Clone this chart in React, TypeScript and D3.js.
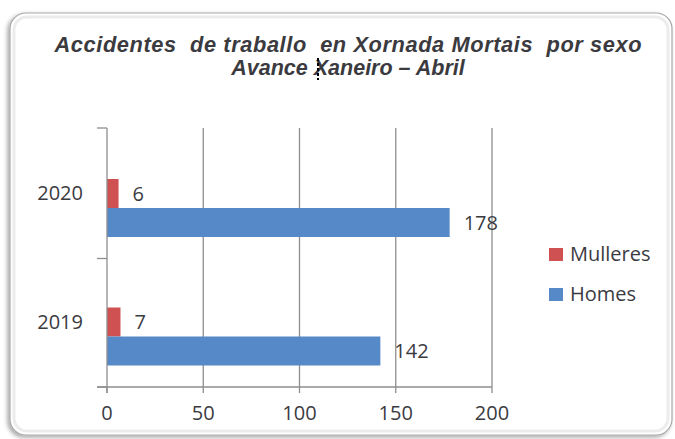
import React from "react";
import * as d3 from "d3";

// data
const years = ["2020", "2019"];
const seriesNames = ["Mulleres", "Homes"];
const mulleres = [6, 7];
const homes = [178, 142];
const xTicks = [0, 50, 100, 150, 200];

const colors: Record<string, string> = { Mulleres: "#cf5151", Homes: "#5589c8" };

const W = 675;
const H = 439;

const App = () => {
  const x = d3.scaleLinear().domain([0, 200]).range([107, 492]);
  const y = d3.scaleBand().domain(years).range([130, 387]);
  // bars sit low in each band, as in the original
  const inner = d3.scaleBand().domain(seriesNames).range([49, 107]);

  const rows = years.map((yr, i) => ({
    year: yr,
    values: [
      { name: "Mulleres", value: mulleres[i] },
      { name: "Homes", value: homes[i] },
    ],
  }));

  const txt = "#3b3b3f";
  const labelFont = "'Open Sans', sans-serif";
  const titleFont = "'Liberation Sans', Arial, sans-serif";

  return (
    <div style={{ position: "fixed", left: 0, top: 0 }}>
      <svg width={W} height={H} style={{ display: "block", background: "#fff" }}>
        <defs>
          <filter id="shadow" x="-5%" y="-5%" width="110%" height="110%">
            <feDropShadow dx={-2} dy={2} stdDeviation={2} floodColor="#000" floodOpacity={0.35} />
          </filter>
        </defs>

        {/* frame */}
        <rect x={10} y={13} width={662} height={422} rx={16} fill="#fff" stroke="#a8a8a8" strokeWidth={1.2} filter="url(#shadow)" />
        <rect x={14} y={17} width={654} height={414} rx={13} fill="none" stroke="#ececec" strokeWidth={3} />

        {/* title */}
        <text x={348} y={52} textAnchor="middle" fontFamily={titleFont} fontWeight="bold" fontStyle="italic" fontSize={21.8} fill={txt} style={{ whiteSpace: "pre" }} textLength={587} lengthAdjust="spacing">
          {"Accidentes  de traballo  en Xornada Mortais  por sexo"}
        </text>
        <text x={348} y={75} textAnchor="middle" fontFamily={titleFont} fontWeight="bold" fontStyle="italic" fontSize={21.5} fill={txt}>
          Avance Xaneiro – Abril
        </text>
        <line x1={318} x2={318} y1={58} y2={80} stroke="#000" strokeWidth={2} strokeDasharray="3,2" />

        {/* gridlines */}
        {xTicks.slice(1).map((t) => (
          <line key={"g" + t} x1={x(t)} x2={x(t)} y1={128} y2={387} stroke="#8e8e8e" strokeWidth={1.3} />
        ))}

        {/* bars */}
        {rows.map((r) =>
          r.values.map((v) => (
            <rect
              key={r.year + v.name}
              x={x(0)}
              y={(y(r.year) ?? 0) + (inner(v.name) ?? 0)}
              width={x(v.value) - x(0)}
              height={inner.bandwidth()}
              fill={colors[v.name]}
            />
          ))
        )}

        {/* value labels */}
        {rows.map((r) =>
          r.values.map((v) => (
            <text
              key={"l" + r.year + v.name}
              x={x(v.value) + 14}
              y={(y(r.year) ?? 0) + (inner(v.name) ?? 0) + inner.bandwidth() / 2 + 7}
              fontFamily={labelFont}
              fontSize={20}
              fill={txt}
            >
              {v.value}
            </text>
          ))
        )}

        {/* y axis */}
        <line x1={x(0)} x2={x(0)} y1={128} y2={393} stroke="#8e8e8e" strokeWidth={1.3} />
        {[128, ...years.slice(1).map((yr) => y(yr) ?? 0), 387].map((yy, i) => (
          <line key={"yt" + i} x1={97} x2={x(0)} y1={yy} y2={yy} stroke="#8e8e8e" strokeWidth={1.3} />
        ))}
        {years.map((yr) => (
          <text key={"yl" + yr} x={83} y={(y(yr) ?? 0) + y.bandwidth() / 2 + 6} textAnchor="end" fontFamily={labelFont} fontSize={20} fill={txt}>
            {yr}
          </text>
        ))}

        {/* x axis */}
        <line x1={97} x2={x(200)} y1={387} y2={387} stroke="#8e8e8e" strokeWidth={1.3} />
        {xTicks.map((t) => (
          <g key={"xt" + t}>
            <line x1={x(t)} x2={x(t)} y1={387} y2={393} stroke="#8e8e8e" strokeWidth={1.3} />
            <text x={x(t)} y={420} textAnchor="middle" fontFamily={labelFont} fontSize={20} fill={txt}>
              {t}
            </text>
          </g>
        ))}

        {/* legend */}
        {seriesNames.map((s, i) => (
          <g key={"lg" + s} transform={`translate(549, ${248 + i * 40})`}>
            <rect x={0} y={0} width={14} height={13} fill={colors[s]} />
            <text x={21} y={13} fontFamily={labelFont} fontSize={20} fill={txt}>
              {s}
            </text>
          </g>
        ))}
      </svg>
    </div>
  );
};

export default App;
